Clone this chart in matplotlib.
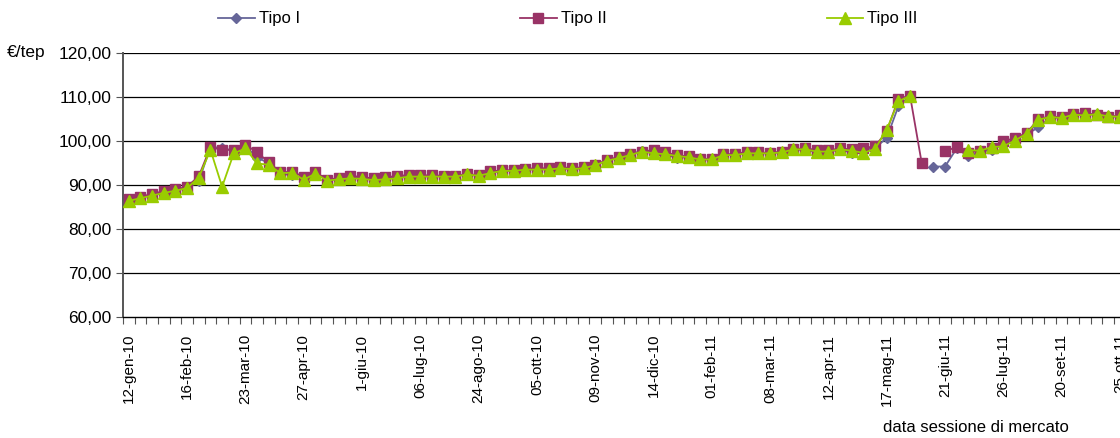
import numpy as np
import matplotlib
matplotlib.use("Agg")
import matplotlib.pyplot as plt
from matplotlib.ticker import FuncFormatter

# weekly market sessions, labels every 5th session
tick_labels = ["12-gen-10", "16-feb-10", "23-mar-10", "27-apr-10", "1-giu-10",
               "06-lug-10", "24-ago-10", "05-ott-10", "09-nov-10", "14-dic-10",
               "01-feb-11", "08-mar-11", "12-apr-11", "17-mag-11", "21-giu-11",
               "26-lug-11", "20-set-11", "25-ott-11"]

# prices in EUR/tep, one value per session (None = no price)
tipo_1 = [86.6, 87.1, 87.8, 88.4, 88.8, 89.3, 90.8, 98.7, 98.4, 97.8,
          98.9, 96.2, 95.0, 92.5, 92.3, 91.6, 92.9, 91.0, 91.4, 91.8,
          91.6, 91.2, 91.6, 91.6, 92.0, 92.0, 92.0, 92.0, 92.0, 92.6,
          91.9, 92.9, 93.0, 93.3, 93.5, 93.6, 93.6, 94.0, 93.5, 93.9,
          94.6, 95.6, 96.3, 97.0, 97.8, 97.2, 97.0, 96.1, 96.4, 95.8,
          95.8, 96.8, 97.0, 97.3, 97.2, 97.2, 97.5, 98.0, 98.0, 97.4,
          97.5, 98.1, 97.3, 98.0, 98.4, 100.7, 107.9, 110.2, None, 94.2,
          94.2, 98.3, 96.5, 97.5, 98.0, 99.2, 100.5, 101.5, 103.1, 105.3,
          105.3, 106.0, 106.2, 106.1, 105.6, 105.5]
tipo_2 = [86.8, 87.3, 88.0, 88.6, 89.0, 89.6, 92.0, 98.6, 98.0, 98.0,
          99.2, 97.4, 95.2, 92.9, 93.0, 91.9, 93.0, 91.2, 91.6, 92.1,
          91.8, 91.5, 91.8, 92.0, 92.3, 92.2, 92.2, 92.1, 92.1, 92.4,
          92.3, 93.1, 93.3, 93.4, 93.7, 93.8, 93.8, 94.0, 93.9, 94.0,
          94.6, 95.6, 96.4, 97.0, 97.5, 98.0, 97.4, 96.8, 96.5, 95.9,
          96.0, 97.0, 97.0, 97.6, 97.4, 97.3, 97.6, 98.2, 98.3, 98.0,
          97.9, 98.3, 98.1, 98.4, 98.8, 102.2, 109.6, 110.3, 95.0, None,
          97.7, 98.6, 97.3, 97.8, 98.4, 99.9, 100.7, 101.8, 105.0, 105.6,
          105.4, 106.1, 106.4, 105.8, 105.5, 105.8]
tipo_3 = [86.4, 87.0, 87.6, 88.2, 88.7, 89.3, 91.7, 98.0, 89.6, 97.2,
          98.3, 94.9, 94.6, 92.7, 92.8, 91.2, 92.6, 91.0, 91.3, 91.5,
          91.4, 91.1, 91.3, 91.5, 91.9, 91.9, 91.9, 91.9, 91.9, 92.4,
          92.1, 92.7, 93.2, 93.2, 93.5, 93.5, 93.5, 93.8, 93.6, 93.8,
          94.5, 95.5, 96.1, 96.8, 97.6, 97.2, 97.0, 96.6, 96.3, 95.8,
          95.8, 96.8, 96.8, 97.2, 97.2, 97.2, 97.4, 98.1, 98.1, 97.6,
          97.6, 98.1, 97.8, 97.3, 98.2, 102.6, 109.0, 110.3, None, None,
          None, None, 97.9, 97.8, 98.6, 98.8, 100.1, 101.7, 104.8, 105.5,
          105.2, 106.0, 105.8, 106.1, 105.6, 105.5]

def arr(v):
    return np.array([np.nan if x is None else x for x in v], dtype=float)

n = len(tipo_1)
x = np.arange(n)
cat_w = 11.66  # px per session

W, H = 1120, 438
fig = plt.figure(figsize=(W / 100, H / 100), dpi=100)
left, top, bottom = 123, 53, 317
ax = fig.add_axes([left / W, 1 - bottom / H, n * cat_w / W, (bottom - top) / H])

font = "Liberation Sans"
ax.plot(x, arr(tipo_1), color="#666699", lw=1.3, marker="D", ms=5.5,
        label="Tipo I", zorder=3)
ax.plot(x, arr(tipo_2), color="#993366", lw=1.3, marker="s", ms=6.5,
        label="Tipo II", zorder=4)
ax.plot(x, arr(tipo_3), color="#99CC00", lw=1.3, marker="^", ms=8.5,
        label="Tipo III", zorder=5)

ax.set_xlim(-0.5, n - 0.5)
ax.set_ylim(60, 120)
ax.set_yticks(np.arange(60, 121, 10))
ax.yaxis.set_major_formatter(FuncFormatter(lambda v, p: f"{v:.2f}".replace(".", ",")))
for v in range(70, 121, 10):
    ax.axhline(v, color="black", lw=0.9, zorder=1)

# ticks between sessions, labels centred on every 5th session
ax.set_xticks(np.arange(-0.5, n, 1.0))
ax.set_xticklabels([])
ax.set_xticks(np.arange(0, n, 5), minor=True)
ax.set_xticklabels(tick_labels[:len(range(0, n, 5))], minor=True, rotation=90,
                   fontsize=11, family=font)
ax.tick_params(axis="x", which="major", direction="out", length=5, color="#555555")
ax.tick_params(axis="x", which="minor", length=0, pad=12)
ax.tick_params(axis="y", direction="out", length=5, color="#555555", labelsize=12.5)
for lab in ax.get_yticklabels():
    lab.set_family(font)

for s in ("top", "right"):
    ax.spines[s].set_visible(False)
ax.spines["left"].set_color("#555555")
ax.spines["left"].set_linewidth(1.4)
ax.spines["bottom"].set_color("black")
ax.spines["bottom"].set_linewidth(1.0)

fig.text(7 / W, 1 - 53 / H, "€/tep", fontsize=12.5, family=font, va="center", ha="left")
fig.text(976 / W, 1 - 428 / H, "data sessione di mercato",
         fontsize=12, family=font, ha="center", va="center")

fig.legend(loc="center left", bbox_to_anchor=(218 / W, 1 - 19 / H), ncol=3,
           frameon=False, handlelength=2.2, handletextpad=0.25,
           columnspacing=13.2, borderpad=0, borderaxespad=0,
           prop={"family": font, "size": 12})

fig.savefig("out.png", dpi=100)
